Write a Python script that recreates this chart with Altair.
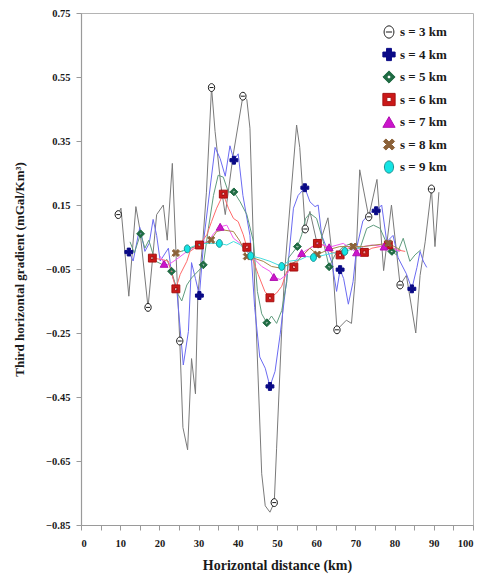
import altair as alt
import pandas as pd

SERIES = ["s = 3 km", "s = 4 km", "s = 5 km", "s = 6 km", "s = 7 km", "s = 8 km", "s = 9 km"]

# ---- s = 3 km (grey line, open circles)
s3_x = [9.5, 10.2, 12.2, 14.0, 15.0, 17.1, 19.3, 21.0, 22.0, 23.3, 24.4, 25.2, 26.0, 27.2, 28.2,
        29.2, 29.8, 31.1, 32.0, 33.3, 34.2, 35.7, 36.8, 38.8, 41.3, 42.3, 43.1, 44.3, 46.1, 47.0,
        48.2, 49.3, 49.9, 51.2, 52.0, 55.0, 55.8, 57.2, 58.4, 60.5, 63.0, 64.0, 65.3, 67.7, 69.0,
        69.9, 71.1, 73.4, 75.5, 77.2, 79.2, 81.4, 83.0, 85.4, 86.5, 87.8, 89.4, 90.3, 91.3]
s3_y = [0.12, 0.14, -0.135, 0.145, 0.075, -0.17, 0.12, 0.15, 0.04, 0.28, -0.05, -0.275, -0.545,
        -0.615, -0.33, -0.44, -0.135, 0.04, 0.19, 0.517, 0.38, 0.21, 0.12, 0.305, 0.49, 0.48, 0.39,
        -0.10, -0.69, -0.79, -0.81, -0.78, -0.61, -0.24, -0.05, 0.40, 0.33, 0.075, 0.13, 0.015,
        0.11, 0.0, -0.24, -0.21, -0.22, -0.09, 0.26, 0.113, 0.23, -0.055, 0.15, -0.10, -0.07,
        -0.25, -0.07, 0.035, 0.20, 0.02, 0.19]
s3_mx = [9.5, 17.1, 25.2, 33.3, 41.3, 49.3, 57.2, 65.3, 73.4, 81.4, 89.4]
s3_my = [0.12, -0.17, -0.275, 0.517, 0.49, -0.78, 0.075, -0.24, 0.113, -0.10, 0.20]

# ---- s = 4 km (blue line, navy crosses)
s4_x = [11.7, 12.2, 13.3, 15.0, 16.3, 17.4, 18.4, 19.3, 20.2, 22.3, 23.1, 24.4, 26.1, 27.4, 28.2,
        29.2, 30.2, 31.4, 32.9, 34.2, 35.5, 36.8, 38.0, 39.0, 40.1, 41.3, 43.1, 44.3, 45.6, 47.0,
        48.2, 49.5, 50.8, 52.4, 54.2, 55.4, 57.1, 58.4, 59.7, 60.5, 61.4, 62.7, 64.0, 65.2, 66.1,
        67.0, 68.2, 69.4, 70.3, 71.9, 74.2, 75.3, 76.7, 78.0, 79.6, 80.9, 83.0, 84.4, 85.7, 86.5,
        87.3, 88.2]
s4_y = [0.005, 0.003, -0.025, 0.08, 0.005, 0.03, 0.105, 0.055, -0.025, 0.015, -0.065, -0.11,
        -0.35, -0.245, -0.03, -0.08, -0.133, 0.05, 0.20, 0.33, 0.295, 0.24, 0.335, 0.29, 0.31,
        0.18, 0.055, -0.17, -0.325, -0.36, -0.417, -0.37, -0.255, -0.09, 0.14, 0.18, 0.204, 0.16,
        0.145, 0.15, 0.055, 0.015, -0.03, -0.12, -0.052, -0.08, -0.16, -0.09, 0.015, 0.10, 0.13,
        0.132, 0.15, 0.035, 0.055, -0.015, -0.065, -0.112, -0.045, 0.005, -0.025, -0.045]
s4_mx = [12.2, 30.2, 39.0, 48.2, 57.1, 66.1, 75.3, 84.4]
s4_my = [0.003, -0.133, 0.29, -0.417, 0.204, -0.052, 0.132, -0.112]

# ---- s = 5 km (green line, diamonds)
s5_x = [12.5, 13.6, 15.2, 16.3, 17.3, 18.9, 20.6, 21.9, 23.1, 24.8, 25.7, 27.0, 28.2, 30.4, 31.2,
        32.5, 33.8, 35.0, 36.3, 37.6, 39.0, 40.6, 42.3, 44.0, 45.0, 46.1, 47.4, 48.6, 49.9, 51.2,
        52.5, 52.9, 55.2, 56.3, 57.3, 58.4, 60.1, 61.8, 63.3, 64.8, 66.9, 69.0, 71.2, 72.9, 74.6,
        76.3, 78.0, 79.3, 80.5, 82.2, 83.9, 85.2, 86.7]
s5_y = [0.035, 0.0, 0.06, 0.015, 0.04, -0.025, -0.035, -0.02, -0.057, -0.13, -0.15, -0.10, -0.078,
        -0.05, -0.037, 0.077, 0.18, 0.243, 0.237, 0.19, 0.191, 0.16, 0.12, 0.036, -0.12, -0.19,
        -0.218, -0.197, -0.22, -0.18, -0.09, -0.016, 0.02, 0.057, 0.108, 0.124, 0.108, 0.036,
        -0.043, -0.006, 0.02, 0.03, 0.015, 0.077, 0.087, 0.077, 0.03, 0.005, -0.006, 0.046,
        -0.026, -0.006, 0.01]
s5_mx = [15.2, 23.1, 31.2, 39.0, 47.4, 55.2, 63.3, 79.3]
s5_my = [0.06, -0.057, -0.037, 0.191, -0.218, 0.02, -0.043, 0.005]

# ---- s = 6 km (red line, squares)
s6_x = [18.2, 21.0, 22.3, 24.2, 25.3, 27.0, 27.8, 30.2, 32.1, 33.3, 34.6, 36.3, 37.6, 38.9, 40.1,
        41.4, 42.3, 44.0, 45.2, 46.9, 48.2, 49.9, 51.2, 52.5, 54.3, 55.9, 56.7, 58.4, 60.3, 61.8,
        63.5, 66.1, 68.2, 69.9, 72.3, 74.2, 76.3, 78.4, 80.5, 82.7]
s6_y = [-0.016, -0.021, -0.026, -0.112, -0.067, -0.026, 0.005, 0.025, 0.057, 0.098, 0.14, 0.184,
        0.14, 0.108, 0.098, 0.057, 0.018, -0.026, -0.067, -0.12, -0.14, -0.125, -0.104, -0.057,
        -0.044, -0.016, -0.006, 0.015, 0.03, 0.025, 0.005, -0.006, 0.015, 0.02, 0.002, 0.015,
        0.02, 0.025, 0.01, 0.005]
s6_mx = [18.2, 24.2, 30.2, 36.3, 42.3, 48.2, 54.3, 60.3, 66.1, 72.3, 78.4]
s6_my = [-0.016, -0.112, 0.025, 0.184, 0.018, -0.14, -0.044, 0.03, -0.006, 0.002, 0.025]

# ---- s = 7 km (magenta line, triangles)
s7_x = [20.2, 21.2, 22.3, 24.8, 26.5, 29.1, 30.4, 32.5, 33.8, 35.5, 37.2, 38.9, 40.6, 42.3, 44.0,
        46.1, 48.2, 49.2, 50.8, 52.5, 54.6, 56.3, 58.4, 60.5, 63.3, 66.9, 70.3, 72.0, 74.2, 77.3,
        79.3, 81.4]
s7_y = [-0.01, -0.034, -0.037, -0.016, 0.0, 0.02, 0.03, 0.036, 0.06, 0.082, 0.087, 0.046, 0.03,
        0.005, -0.016, -0.042, -0.057, -0.075, -0.083, -0.067, -0.026, 0.0, 0.015, 0.03, 0.018,
        0.03, 0.002, 0.02, 0.025, 0.02, 0.015, 0.005]
s7_mx = [21.2, 35.5, 49.2, 56.3, 63.3, 70.3, 77.3]
s7_my = [-0.034, 0.082, -0.075, 0.0, 0.018, 0.002, 0.02]

# ---- s = 8 km (brown line, X marks)
s8_x = [23.1, 24.2, 26.8, 29.1, 31.6, 33.2, 34.6, 36.3, 38.9, 40.6, 42.3, 44.0, 46.5, 48.6, 50.8,
        52.9, 55.0, 58.4, 60.3, 63.0, 66.0, 69.4, 72.0, 75.0, 78.4, 81.5]
s8_y = [-0.01, 0.0, 0.01, 0.02, 0.03, 0.041, 0.067, 0.072, 0.067, 0.036, -0.011, -0.016, -0.026,
        -0.042, -0.047, -0.037, -0.026, 0.015, -0.005, 0.01, 0.02, 0.02, 0.02, 0.025, 0.03, 0.01]
s8_mx = [24.2, 33.2, 42.3, 60.3, 69.4, 78.4]
s8_my = [0.0, 0.041, -0.011, -0.005, 0.02, 0.03]

# ---- s = 9 km (cyan line, cyan circles)
s9_x = [25.7, 27.1, 29.5, 31.6, 35.3, 37.2, 38.9, 40.6, 42.3, 43.3, 45.7, 48.2, 51.2, 52.9, 55.9,
        57.6, 59.3, 64.4, 67.3, 69.9, 71.7]
s9_y = [0.005, 0.013, 0.025, 0.03, 0.03, 0.025, 0.036, 0.026, 0.005, -0.009, -0.016, -0.026,
        -0.042, -0.026, -0.021, -0.011, -0.014, 0.0, 0.005, 0.015, 0.015]
s9_mx = [27.1, 35.3, 43.3, 51.2, 59.3, 67.3]
s9_my = [0.013, 0.03, -0.009, -0.042, -0.014, 0.005]

Y_TICKS = [-0.85, -0.75, -0.65, -0.55, -0.45, -0.35, -0.25, -0.15, -0.05,
           0.05, 0.15, 0.25, 0.35, 0.45, 0.55, 0.65, 0.75]
X_MAJOR = [0, 10, 20, 30, 40, 50, 60, 70, 80, 90, 100]
X_MINOR = [5, 15, 25, 35, 45, 55, 65, 75, 85, 95]

LINE_COLORS = ["#7a7a7a", "#6b6bf2", "#5f9c7e", "#ff6a6a", "#f25cf2", "#a8864a", "#44dcdc"]
MARK_FILL = ["#ffffff", "#0a0a86", "#1f6b43", "#cc1818", "#cc14cc", "#8c6239", "#14e4e4"]
MARK_STROKE = ["#1a1a1a", "#0a0a86", "#1f6b43", "#a41010", "#b010b0", "#8c6239", "#1d8f8f"]
SHAPES = [
    "M-0.8,0A0.8,1,0,1,1,0.8,0A0.8,1,0,1,1,-0.8,0ZM-0.5,0L0.5,0",
    "cross",
    "M0,-1L1,0L0,1L-1,0ZM0,-0.38L-0.38,0L0,0.38L0.38,0Z",
    "M-1,-1L1,-1L1,1L-1,1ZM-0.35,-0.35L-0.35,0.35L0.35,0.35L0.35,-0.35Z",
    "triangle-up",
    "M0.905,-0.509L0.396,0L0.905,0.509L0.509,0.905L0,0.396L-0.509,0.905L-0.905,0.509"
    "L-0.396,0L-0.905,-0.509L-0.509,-0.905L0,-0.396L0.509,-0.905Z",
    "M0,-1A0.75,1,0,1,1,0,1A0.75,1,0,1,1,0,-1Z",
]

line_sets = [(s3_x, s3_y), (s4_x, s4_y), (s5_x, s5_y), (s6_x, s6_y),
             (s7_x, s7_y), (s8_x, s8_y), (s9_x, s9_y)]
mark_sets = [(s3_mx, s3_my), (s4_mx, s4_my), (s5_mx, s5_my), (s6_mx, s6_my),
             (s7_mx, s7_my), (s8_mx, s8_my), (s9_mx, s9_my)]

line_rows, mark_rows = [], []
for k, (name, (xs, ys)) in enumerate(zip(SERIES, line_sets)):
    for i, (a, b) in enumerate(zip(xs, ys)):
        line_rows.append({"series": name, "x": a, "y": b, "i": i, "k": k})
for k, (name, (xs, ys)) in enumerate(zip(SERIES, mark_sets)):
    for a, b in zip(xs, ys):
        mark_rows.append({"series": name, "x": a, "y": b, "k": k})
line_df = pd.DataFrame(line_rows)
mark_df = pd.DataFrame(mark_rows)
legend_df = pd.DataFrame({"series": SERIES})

FONT = "Liberation Serif"
XS = alt.Scale(domain=[0, 100], nice=False, zero=False)
YS = alt.Scale(domain=[-0.85, 0.75], nice=False, zero=False)
shape_s = alt.Scale(domain=SERIES, range=SHAPES)
fill_s = alt.Scale(domain=SERIES, range=MARK_FILL)
stroke_s = alt.Scale(domain=SERIES, range=MARK_STROKE)

lines = alt.Chart(line_df).mark_line(strokeWidth=1, interpolate="linear").encode(
    x=alt.X("x:Q", scale=XS,
            axis=alt.Axis(values=X_MAJOR, orient="bottom", title="Horizontal distance (km)",
                          labelOverlap=False, grid=False, tickSize=5, labelPadding=8,
                          titlePadding=10, titleFontSize=14)),
    y=alt.Y("y:Q", scale=YS,
            axis=alt.Axis(values=Y_TICKS, title="Third horizontal gradient (mGal/Km³)",
                          labelExpr="round((datum.value + 0.85) * 10) % 2 == 0 ? format(datum.value, '.2f') : ''",
                          labelOverlap=False, grid=False, tickSize=5, labelPadding=6,
                          titlePadding=19, titleFontSize=13)),
    color=alt.Color("series:N", scale=alt.Scale(domain=SERIES, range=LINE_COLORS), legend=None),
    detail="series:N",
    order="i:Q",
)

points = alt.Chart(mark_df).mark_point(size=62, strokeWidth=1, opacity=1, fillOpacity=1).encode(
    x=alt.X("x:Q", scale=XS,
            axis=alt.Axis(values=X_MINOR, orient="bottom", labels=False, title=None,
                          domain=False, grid=False, tickSize=5)),
    y=alt.Y("y:Q", scale=YS),
    shape=alt.Shape("series:N", scale=shape_s, legend=None),
    fill=alt.Fill("series:N", scale=fill_s, legend=None),
    stroke=alt.Stroke("series:N", scale=stroke_s, legend=None),
    order="k:Q",
)

plot = alt.layer(lines, points).resolve_axis(x="independent")

LEG_Y = alt.Y("series:N", axis=None,
              scale=alt.Scale(type="point", domain=SERIES, range=[19, 154], padding=0))

legend_marks = alt.Chart(legend_df).mark_point(size=150, strokeWidth=1, opacity=1,
                                               fillOpacity=1).encode(
    x=alt.value(308),
    y=LEG_Y,
    shape=alt.Shape("series:N", scale=shape_s, legend=None),
    fill=alt.Fill("series:N", scale=fill_s, legend=None),
    stroke=alt.Stroke("series:N", scale=stroke_s, legend=None),
)
legend_text = alt.Chart(legend_df).mark_text(
    align="left", baseline="middle", font=FONT, fontWeight="bold", fontSize=13,
    color="#1a1a1a").encode(
    x=alt.value(319),
    y=LEG_Y,
    text="series:N",
)

chart = alt.layer(plot, legend_marks, legend_text).resolve_scale(y="independent").properties(
    width=392, height=512,
    autosize=alt.AutoSizeParams(type="none"),
    padding={"left": 73, "top": 5, "right": 6, "bottom": 62},
).configure_axis(
    labelFont=FONT, labelFontWeight="bold", labelFontSize=10.5, labelColor="#1a1a1a",
    titleFont=FONT, titleFontWeight="bold", titleColor="#1a1a1a",
    domainColor="#9a9a9a", tickColor="#9a9a9a", domainWidth=1.2,
).configure_view(stroke="#b4b4b4", strokeWidth=1)

chart.save("out.html", embed_options={"renderer": "svg", "actions": False})
